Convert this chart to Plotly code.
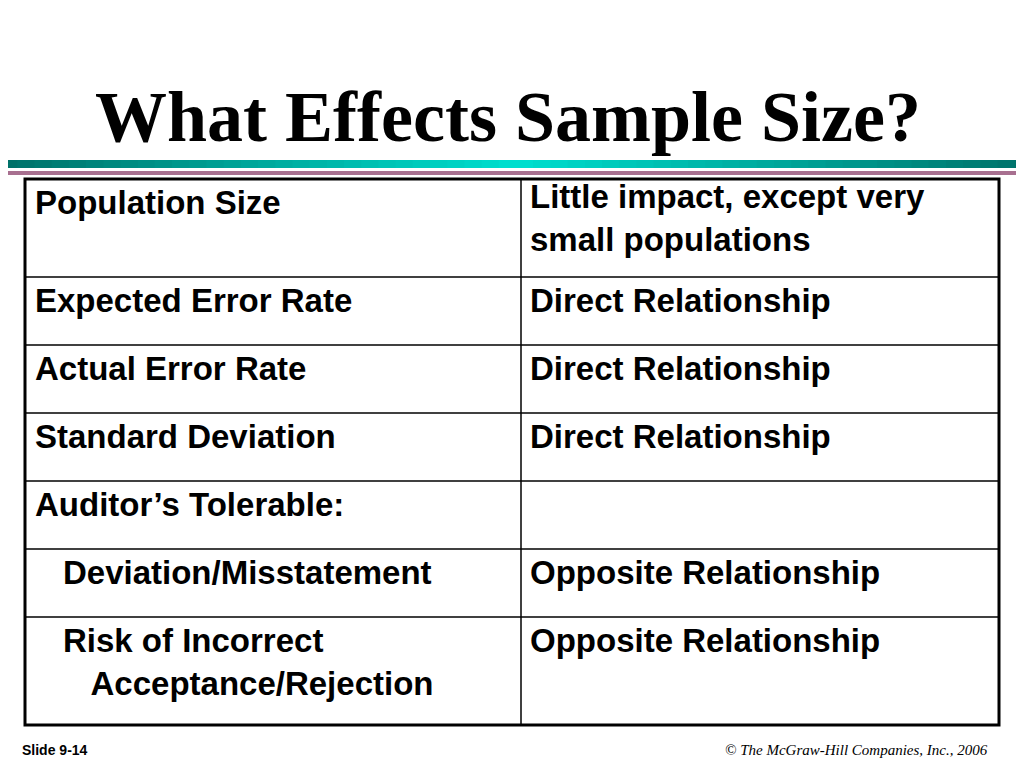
import plotly.graph_objects as go

title = "What Effects Sample Size?"
factors = ["Population Size", "Expected Error Rate", "Actual Error Rate",
           "Standard Deviation", "Auditor’s Tolerable:",
           "Deviation/Misstatement", "Risk of Incorrect<br>    Acceptance/Rejection"]
indent = [False, False, False, False, False, True, True]
effects = ["Little impact, except very<br>small populations", "Direct Relationship",
           "Direct Relationship", "Direct Relationship", "",
           "Opposite Relationship", "Opposite Relationship"]
footer_left = "Slide 9-14"
footer_right = "© The McGraw-Hill Companies, Inc., 2006"

# layout geometry (pixels)
row_edges = [179, 277, 345, 413, 481, 549, 617, 725]
x0, xm, x1 = 25, 521, 999

fig = go.Figure()
shapes = []

# teal gradient bar
n = 60
for i in range(n):
    t = abs((i + 0.5) / n - 0.5) * 2  # 0 centre, 1 edge
    r, g, b = 0, int(0x70 + (0xe0 - 0x70) * (1 - t)), int(0x68 + (0xd0 - 0x68) * (1 - t))
    shapes.append(dict(type="rect", x0=1032 * i / n, x1=1032 * (i + 1) / n + 1, y0=160, y1=168,
                       fillcolor=f"rgb({r},{g},{b})", line_width=0, layer="below"))
shapes.append(dict(type="rect", x0=0, x1=1032, y0=171, y1=175, fillcolor="#a87090", line_width=0))

# table
shapes.append(dict(type="rect", x0=x0, x1=x1, y0=row_edges[0], y1=row_edges[-1],
                   line=dict(color="black", width=3)))
shapes.append(dict(type="line", x0=xm, x1=xm, y0=row_edges[0], y1=row_edges[-1],
                   line=dict(color="black", width=1.5)))
for y in row_edges[1:-1]:
    shapes.append(dict(type="line", x0=x0, x1=x1, y0=y, y1=y, line=dict(color="black", width=1.5)))

ann = []
font = dict(family="Liberation Sans, Arial", size=33, color="black")
for i, (f, e) in enumerate(zip(factors, effects)):
    top = row_edges[i] + 3
    ann.append(dict(x=x0 + (36 if indent[i] else 8), y=top, text="<b>" + f.replace("    ", "&nbsp;" * 3) + "</b>",
                    xanchor="left", yanchor="top", showarrow=False, font=font, align="left"))
    if e:
        ann.append(dict(x=xm + 7, y=top - (6 if "<br>" in e else 0), text="<b>" + e + "</b>",
                        xanchor="left", yanchor="top", showarrow=False, font=font, align="left"))

ann.append(dict(x=508, y=117, text="<b>" + title + "</b>", showarrow=False,
                font=dict(family="Liberation Serif, Times New Roman", size=72, color="black")))
ann.append(dict(x=20, y=750, text="<b>" + footer_left + "</b>", xanchor="left", showarrow=False,
                font=dict(family="Liberation Sans, Arial", size=14, color="black")))
ann.append(dict(x=990, y=750, text="<i>" + footer_right + "</i>", xanchor="right", showarrow=False,
                font=dict(family="Liberation Serif, Times New Roman", size=15, color="black")))

fig.update_layout(width=1024, height=768, margin=dict(l=0, r=0, t=0, b=0),
                  plot_bgcolor="white", paper_bgcolor="white", shapes=shapes, annotations=ann,
                  xaxis=dict(range=[8, 1032], visible=False),
                  yaxis=dict(range=[776, 8], visible=False))
fig.write_html("out.html")
